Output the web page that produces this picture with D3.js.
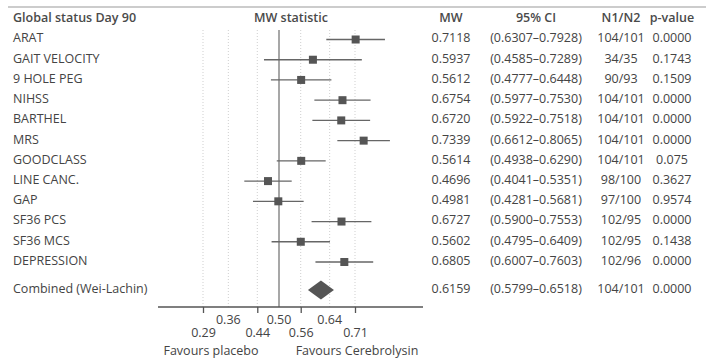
<html>
<head>
<script src="https://d3js.org/d3.v7.min.js"></script>
</head>
<body style="margin:0;background:#fff">
<div id="chart"></div>
<script>
// outcome rows
var outcomes = ["ARAT", "GAIT VELOCITY", "9 HOLE PEG", "NIHSS", "BARTHEL", "MRS", "GOODCLASS",
                "LINE CANC.", "GAP", "SF36 PCS", "SF36 MCS", "DEPRESSION"];
var mw     = [0.7118, 0.5937, 0.5612, 0.6754, 0.6720, 0.7339, 0.5614, 0.4696, 0.4981, 0.6727, 0.5602, 0.6805];
var ciLow  = [0.6307, 0.4585, 0.4777, 0.5977, 0.5922, 0.6612, 0.4938, 0.4041, 0.4281, 0.5900, 0.4795, 0.6007];
var ciHigh = [0.7928, 0.7289, 0.6448, 0.7530, 0.7518, 0.8065, 0.6290, 0.5351, 0.5681, 0.7553, 0.6409, 0.7603];
var nRatio = ["104/101", "34/35", "90/93", "104/101", "104/101", "104/101", "104/101", "98/100", "97/100", "102/95", "102/95", "102/96"];
var pValue = ["0.0000", "0.1743", "0.1509", "0.0000", "0.0000", "0.0000", "0.075", "0.3627", "0.9574", "0.0000", "0.1438", "0.0000"];

// combined estimate
var combinedLabel = "Combined (Wei-Lachin)";
var combined = {mw: 0.6159, lo: 0.5799, hi: 0.6518, n: "104/101", p: "0.0000"};

// axis
var tickLow = [0.29, 0.44, 0.56, 0.71];
var tickHigh = [0.36, 0.50, 0.64];
var gridVals = [0.29, 0.36, 0.44, 0.56, 0.64, 0.71];

var width = 713, height = 363;
var font = "'Open Sans', sans-serif";
var fs = "12.5px";

var svg = d3.select("#chart").append("svg")
    .attr("width", width)
    .attr("height", height)
    .style("font-family", font);

var x = d3.scaleLinear().domain([0.29, 0.71]).range([203, 355]);
var y = d3.scaleLinear().domain([0, outcomes.length - 1]).range([39.5, 262]);
var yComb = 290;
var axisY = 307;
var plotTop = 30;

var fmt4 = d3.format(".4f");
var cols = {mw: 451, ci: 536, n: 621, p: 672};

// top rule
svg.append("line")
    .attr("x1", 8).attr("x2", 706)
    .attr("y1", 7).attr("y2", 7)
    .style("stroke", "#999").style("stroke-width", 1.2);

// headers
var header = svg.append("g")
    .style("font-size", fs)
    .style("font-weight", 600)
    .style("fill", "#4a4a4a");
header.append("text").attr("x", 13).attr("y", 18).attr("dy", "0.35em").text("Global status Day 90");
header.append("text").attr("x", 291).attr("y", 18).attr("dy", "0.35em").style("text-anchor", "middle").text("MW statistic");
header.append("text").attr("x", cols.mw).attr("y", 18).attr("dy", "0.35em").style("text-anchor", "middle").text("MW");
header.append("text").attr("x", cols.ci).attr("y", 18).attr("dy", "0.35em").style("text-anchor", "middle").text("95% CI");
header.append("text").attr("x", cols.n).attr("y", 18).attr("dy", "0.35em").style("text-anchor", "middle").text("N1/N2");
header.append("text").attr("x", cols.p).attr("y", 18).attr("dy", "0.35em").style("text-anchor", "middle").text("p-value");

// dotted grid
svg.append("g").selectAll("line")
    .data(gridVals)
    .enter()
    .append("line")
    .attr("x1", function (d) { return x(d); })
    .attr("x2", function (d) { return x(d); })
    .attr("y1", plotTop).attr("y2", axisY)
    .style("stroke", "#cfcfcf")
    .style("stroke-width", 1)
    .style("stroke-dasharray", "1,2");

// null line at 0.5
svg.append("line")
    .attr("x1", x(0.5)).attr("x2", x(0.5))
    .attr("y1", plotTop).attr("y2", axisY)
    .style("stroke", "#8a8a8a").style("stroke-width", 1.5);

// axis
var axis = svg.append("g")
    .attr("transform", "translate(0," + axisY + ")")
    .call(d3.axisBottom(x).tickValues(tickLow).tickSize(6).tickSizeOuter(0).tickFormat(d3.format(".2f")));
axis.select(".domain").remove();
axis.selectAll(".tick line").style("stroke", "#555").style("stroke-width", 1.3);
axis.selectAll(".tick text")
    .attr("y", 26).attr("dy", "0.35em")
    .style("font-family", font).style("font-size", fs).style("fill", "#444");
svg.append("line")
    .attr("x1", 158).attr("x2", 423)
    .attr("y1", axisY).attr("y2", axisY)
    .style("stroke", "#555").style("stroke-width", 1.3);

svg.append("g").selectAll("text")
    .data(tickHigh)
    .enter()
    .append("text")
    .attr("x", function (d) { return x(d); })
    .attr("y", 320)
    .attr("dy", "0.35em")
    .style("text-anchor", "middle")
    .style("font-size", fs)
    .style("fill", "#444")
    .text(d3.format(".2f"));

svg.append("text").attr("x", 211).attr("y", 351).attr("dy", "0.35em")
    .style("text-anchor", "middle").style("font-size", fs).style("fill", "#444")
    .text("Favours placebo");
svg.append("text").attr("x", 357).attr("y", 351).attr("dy", "0.35em")
    .style("text-anchor", "middle").style("font-size", fs).style("fill", "#444")
    .text("Favours Cerebrolysin");

// rows
var rows = svg.append("g").selectAll("g")
    .data(outcomes)
    .enter()
    .append("g");

rows.append("line")
    .attr("x1", function (d, i) { return x(ciLow[i]); })
    .attr("x2", function (d, i) { return x(ciHigh[i]); })
    .attr("y1", function (d, i) { return y(i); })
    .attr("y2", function (d, i) { return y(i); })
    .style("stroke", "#666").style("stroke-width", 1.3);

rows.append("rect")
    .attr("x", function (d, i) { return x(mw[i]) - 4; })
    .attr("y", function (d, i) { return y(i) - 4; })
    .attr("width", 8).attr("height", 8)
    .style("fill", "#555");

var rowText = function (sel, xpos, anchor, fn) {
    sel.append("text")
        .attr("x", xpos)
        .attr("y", function (d, i) { return y(i) - 1.5; })
        .attr("dy", "0.35em")
        .style("text-anchor", anchor)
        .style("font-size", fs)
        .style("fill", "#444")
        .text(fn);
};
rowText(rows, 13, "start", function (d) { return d; });
rowText(rows, cols.mw, "middle", function (d, i) { return fmt4(mw[i]); });
rowText(rows, cols.ci, "middle", function (d, i) { return "(" + fmt4(ciLow[i]) + "\u2013" + fmt4(ciHigh[i]) + ")"; });
rowText(rows, cols.n, "middle", function (d, i) { return nRatio[i]; });
rowText(rows, cols.p, "middle", function (d, i) { return pValue[i]; });

// combined diamond
svg.append("path")
    .attr("d", "M" + x(combined.lo) + "," + yComb +
               "L" + x(combined.mw) + "," + (yComb - 9.5) +
               "L" + x(combined.hi) + "," + yComb +
               "L" + x(combined.mw) + "," + (yComb + 9.5) + "Z")
    .style("fill", "#555");

var comb = svg.append("g").style("font-size", fs).style("fill", "#444");
comb.append("text").attr("x", 13).attr("y", yComb - 1.5).attr("dy", "0.35em").text(combinedLabel);
comb.append("text").attr("x", cols.mw).attr("y", yComb - 1.5).attr("dy", "0.35em").style("text-anchor", "middle").text(fmt4(combined.mw));
comb.append("text").attr("x", cols.ci).attr("y", yComb - 1.5).attr("dy", "0.35em").style("text-anchor", "middle")
    .text("(" + fmt4(combined.lo) + "\u2013" + fmt4(combined.hi) + ")");
comb.append("text").attr("x", cols.n).attr("y", yComb - 1.5).attr("dy", "0.35em").style("text-anchor", "middle").text(combined.n);
comb.append("text").attr("x", cols.p).attr("y", yComb - 1.5).attr("dy", "0.35em").style("text-anchor", "middle").text(combined.p);
</script>
</body>
</html>
